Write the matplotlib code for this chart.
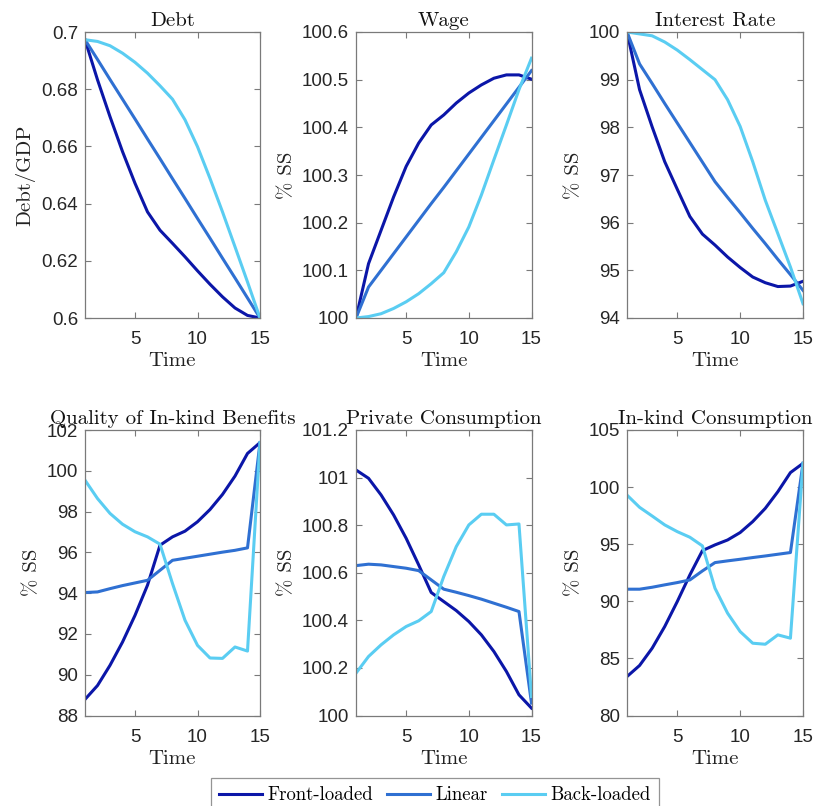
import matplotlib
matplotlib.use("Agg")
import matplotlib.pyplot as plt

t = list(range(1, 16))
series_names = ["Front-loaded", "Linear", "Back-loaded"]
colors = ["#0b16a8", "#2f70d2", "#5acdf2"]

debt_front = [0.6973, 0.6833, 0.6704, 0.6582, 0.6471, 0.6371, 0.6307, 0.6261, 0.6214, 0.6165, 0.6118, 0.6074, 0.6035, 0.6009, 0.600]
debt_linear = [0.6973, 0.6904, 0.6834, 0.6765, 0.6696, 0.6626, 0.6557, 0.6487, 0.6418, 0.6348, 0.6279, 0.6209, 0.6140, 0.6070, 0.600]
debt_back = [0.6973, 0.6967, 0.6952, 0.6926, 0.6894, 0.6856, 0.6812, 0.6765, 0.6693, 0.6599, 0.6488, 0.6371, 0.6249, 0.6126, 0.600]

wage_front = [100.0, 100.114, 100.184, 100.254, 100.318, 100.367, 100.405, 100.426, 100.451, 100.472, 100.489, 100.503, 100.510, 100.510, 100.501]
wage_linear = [100.0, 100.065, 100.100, 100.135, 100.170, 100.205, 100.240, 100.274, 100.309, 100.344, 100.379, 100.414, 100.449, 100.484, 100.519]
wage_back = [100.0, 100.003, 100.009, 100.020, 100.034, 100.051, 100.072, 100.095, 100.139, 100.191, 100.258, 100.332, 100.405, 100.479, 100.545]

rate_front = [100.0, 98.79, 98.01, 97.28, 96.70, 96.13, 95.76, 95.53, 95.28, 95.06, 94.86, 94.74, 94.66, 94.67, 94.77]
rate_linear = [100.0, 99.33, 98.92, 98.50, 98.09, 97.68, 97.27, 96.86, 96.53, 96.21, 95.88, 95.56, 95.23, 94.91, 94.58]
rate_back = [100.0, 99.96, 99.92, 99.79, 99.62, 99.42, 99.21, 99.00, 98.58, 98.02, 97.28, 96.47, 95.77, 95.07, 94.30]

qual_front = [88.79, 89.47, 90.46, 91.60, 92.91, 94.39, 96.35, 96.76, 97.04, 97.50, 98.10, 98.84, 99.74, 100.85, 101.38]
qual_linear = [94.03, 94.06, 94.22, 94.37, 94.50, 94.63, 95.12, 95.61, 95.71, 95.81, 95.91, 96.01, 96.10, 96.22, 101.38]
qual_back = [99.54, 98.64, 97.91, 97.38, 97.01, 96.76, 96.40, 94.47, 92.67, 91.44, 90.82, 90.80, 91.36, 91.16, 101.38]

priv_front = [101.032, 100.997, 100.927, 100.843, 100.745, 100.633, 100.517, 100.479, 100.441, 100.395, 100.339, 100.269, 100.185, 100.087, 100.031]
priv_linear = [100.630, 100.636, 100.633, 100.626, 100.619, 100.609, 100.570, 100.531, 100.518, 100.504, 100.489, 100.472, 100.455, 100.437, 100.052]
priv_back = [100.178, 100.248, 100.297, 100.339, 100.374, 100.398, 100.437, 100.584, 100.710, 100.801, 100.846, 100.846, 100.801, 100.805, 100.080]

inkind_front = [83.41, 84.38, 85.89, 87.79, 89.98, 92.31, 94.44, 94.94, 95.37, 96.02, 96.98, 98.14, 99.60, 101.27, 102.08]
inkind_linear = [91.06, 91.06, 91.23, 91.44, 91.64, 91.87, 92.66, 93.39, 93.54, 93.68, 93.83, 93.97, 94.12, 94.27, 102.08]
inkind_back = [99.30, 98.23, 97.47, 96.69, 96.10, 95.61, 94.85, 91.14, 88.96, 87.35, 86.33, 86.24, 87.06, 86.77, 102.08]

titles = ["Debt", "Wage", "Interest Rate", "Quality of In-kind Benefits", "Private Consumption", "In-kind Consumption"]
ylabels = ["Debt/GDP", "% SS", "% SS", "% SS", "% SS", "% SS"]
ylims = [(0.6, 0.7), (100, 100.6), (94, 100), (88, 102), (100, 101.2), (80, 105)]
yticks = [
    [0.6, 0.62, 0.64, 0.66, 0.68, 0.7],
    [100, 100.1, 100.2, 100.3, 100.4, 100.5, 100.6],
    [94, 95, 96, 97, 98, 99, 100],
    [88, 90, 92, 94, 96, 98, 100, 102],
    [100, 100.2, 100.4, 100.6, 100.8, 101, 101.2],
    [80, 85, 90, 95, 100, 105],
]
yticklabels = [
    ["0.6", "0.62", "0.64", "0.66", "0.68", "0.7"],
    ["100", "100.1", "100.2", "100.3", "100.4", "100.5", "100.6"],
    ["94", "95", "96", "97", "98", "99", "100"],
    ["88", "90", "92", "94", "96", "98", "100", "102"],
    ["100", "100.2", "100.4", "100.6", "100.8", "101", "101.2"],
    ["80", "85", "90", "95", "100", "105"],
]
data = [
    (debt_front, debt_linear, debt_back),
    (wage_front, wage_linear, wage_back),
    (rate_front, rate_linear, rate_back),
    (qual_front, qual_linear, qual_back),
    (priv_front, priv_linear, priv_back),
    (inkind_front, inkind_linear, inkind_back),
]
xticks = [5, 10, 15]

W, H = 814, 806
fig = plt.figure(figsize=(W / 100, H / 100), dpi=100)

lefts = [85, 356, 627]
widths = [175, 175.5, 176]
rows = [(32, 318), (430, 715.5)]

serif = "cmr10"
tickfont = "Liberation Sans"
edge = "#7a7a7a"
textc = "#262626"

handles = None
for i in range(6):
    r, c = divmod(i, 3)
    top, bot = rows[r]
    ax = fig.add_axes([lefts[c] / W, 1 - bot / H, widths[c] / W, (bot - top) / H])
    hs = []
    for s in range(3):
        h, = ax.plot(t, data[i][s], color=colors[s], lw=2.2, label=series_names[s], solid_joinstyle="round")
        hs.append(h)
    handles = hs
    ax.set_xlim(1, 15)
    ax.set_ylim(*ylims[i])
    ax.set_xticks(xticks)
    ax.set_xticklabels([str(x) for x in xticks], fontfamily=tickfont, fontsize=13.5, color=textc)
    ax.set_yticks(yticks[i])
    ax.set_yticklabels(yticklabels[i], fontfamily=tickfont, fontsize=13.5, color=textc)
    ax.tick_params(direction="in", top=True, right=True, length=4, width=0.8, color=edge)
    ax.tick_params(axis="x", pad=9.5)
    ax.tick_params(axis="y", pad=5)
    for sp in ax.spines.values():
        sp.set_color(edge)
        sp.set_linewidth(0.9)
    ax.set_title(titles[i], fontfamily=serif, fontsize=15, color="#111111", pad=4)
    ax.set_xlabel("Time", fontfamily=serif, fontsize=15, color="#222222", labelpad=3)
    ax.set_ylabel(ylabels[i], fontfamily=serif, fontsize=15, color="#222222", labelpad=4)

leg = fig.legend(handles, series_names, loc="upper center", bbox_to_anchor=(0.534, 1 - 778 / H),
                 ncol=3, frameon=True, fancybox=False, borderaxespad=0,
                 prop={"family": serif, "size": 13.5}, handlelength=2.3, handletextpad=0.27,
                 columnspacing=0.75, borderpad=0.45)
leg.get_frame().set_edgecolor(edge)
leg.get_frame().set_linewidth(0.9)

fig.savefig("out.png", dpi=100)
